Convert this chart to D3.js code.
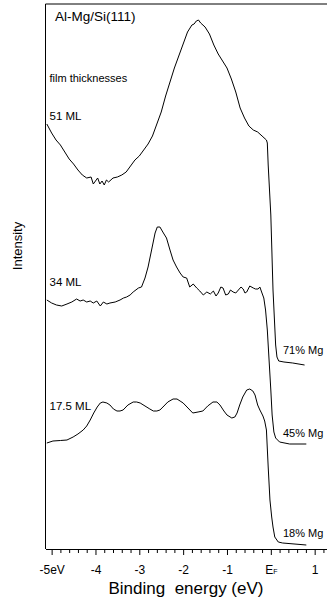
<!DOCTYPE html>
<html>
<head>
<meta charset="utf-8">
<script src="https://cdn.jsdelivr.net/npm/d3@7"></script>
<style>
  html, body { margin: 0; padding: 0; background: #fff; }
  svg { display: block; }
  text { font-family: "Liberation Sans", Arial, Helvetica, sans-serif; fill: #000; }
</style>
</head>
<body>
<svg id="chart" width="327" height="603"></svg>
<script>
// Valence-band photoemission spectra of Al-Mg films on Si(111),
// [binding energy (eV), intensity (arb. units, stacked with offsets)]
const spectrum51ML = [
  [-5.11,42.5],[-5.0,41.6],[-4.9,40.9],[-4.8,40.4],[-4.7,39.7],[-4.6,39.0],[-4.5,38.5],
  [-4.4,37.9],[-4.3,37.4],[-4.2,37.1],[-4.1,37.2],[-4.05,36.5],[-4.0,36.8],[-3.95,37.1],
  [-3.9,36.5],[-3.85,36.8],[-3.8,36.4],[-3.75,36.9],[-3.7,36.7],[-3.6,37.1],[-3.5,37.2],
  [-3.4,37.4],[-3.3,37.7],[-3.2,38.3],[-3.1,38.9],[-3.0,39.3],[-2.9,39.9],[-2.8,40.5],
  [-2.7,41.3],[-2.6,42.5],[-2.5,43.7],[-2.4,45.3],[-2.3,46.7],[-2.2,48.1],[-2.1,49.3],
  [-2.0,50.5],[-1.9,51.7],[-1.8,52.4],[-1.75,52.5],[-1.7,52.8],[-1.65,52.9],[-1.6,52.6],
  [-1.5,52.2],[-1.4,51.5],[-1.3,50.4],[-1.2,49.5],[-1.1,48.8],[-1.0,48.1],[-0.9,47.0],
  [-0.8,45.7],[-0.7,44.1],[-0.6,43.1],[-0.5,42.3],[-0.4,41.9],[-0.3,41.7],[-0.2,41.3],
  [-0.1,40.9],[-0.08,40.6],[-0.06,38.4],[0.0,33.4],[0.05,25.9],[0.11,20.4],[0.14,19.2],
  [0.18,18.8],[0.3,18.7],[0.5,18.6],[0.77,18.4]
];

const spectrum34ML = [
  [-5.11,24.9],[-5.0,24.6],[-4.89,24.4],[-4.77,24.3],[-4.65,24.5],[-4.54,24.7],[-4.43,25.0],
  [-4.35,24.8],[-4.28,24.9],[-4.2,24.7],[-4.12,24.8],[-4.05,24.6],[-3.97,24.8],[-3.89,24.3],
  [-3.82,24.7],[-3.74,24.5],[-3.67,24.6],[-3.55,24.7],[-3.44,24.9],[-3.36,25.1],[-3.29,25.2],
  [-3.21,25.4],[-3.14,25.7],[-3.02,26.1],[-2.95,26.2],[-2.87,27.1],[-2.8,28.2],[-2.72,29.9],
  [-2.64,31.6],[-2.59,32.2],[-2.53,32.2],[-2.45,31.6],[-2.38,31.1],[-2.3,29.9],[-2.23,28.9],
  [-2.15,28.2],[-2.07,27.6],[-2.0,27.2],[-1.92,27.1],[-1.85,26.2],[-1.77,26.5],[-1.69,26.1],
  [-1.62,25.8],[-1.54,25.4],[-1.46,25.7],[-1.38,25.5],[-1.31,25.8],[-1.25,25.3],[-1.2,25.6],
  [-1.14,26.2],[-1.09,26.1],[-1.03,25.4],[-0.97,25.5],[-0.92,25.9],[-0.86,25.7],[-0.8,25.6],
  [-0.74,25.9],[-0.68,26.2],[-0.63,26.0],[-0.59,25.6],[-0.55,25.7],[-0.48,26.3],[-0.4,26.1],
  [-0.35,26.0],[-0.29,26.0],[-0.25,26.2],[-0.21,25.7],[-0.16,25.1],[-0.12,23.9],[-0.08,21.9],
  [-0.04,18.9],[0.0,15.9],[0.03,13.4],[0.07,11.7],[0.11,11.1],[0.2,10.7],[0.43,10.5],[0.81,10.5]
];

const spectrum17ML = [
  [-5.11,10.6],[-4.97,10.8],[-4.8,10.85],[-4.65,10.9],[-4.51,11.2],[-4.4,11.5],[-4.28,11.9],
  [-4.2,12.3],[-4.12,12.9],[-4.04,13.6],[-3.96,14.2],[-3.89,14.6],[-3.83,14.7],[-3.74,14.6],
  [-3.67,14.4],[-3.59,14.0],[-3.51,13.8],[-3.44,13.8],[-3.37,13.9],[-3.26,14.4],[-3.14,14.7],
  [-3.06,14.7],[-2.98,14.6],[-2.87,14.3],[-2.76,14.0],[-2.68,13.8],[-2.6,13.8],[-2.53,13.9],
  [-2.46,14.2],[-2.35,14.7],[-2.23,15.0],[-2.14,15.0],[-2.07,14.8],[-2.0,14.6],[-1.89,14.1],
  [-1.78,13.6],[-1.66,13.7],[-1.55,13.8],[-1.44,14.3],[-1.32,14.7],[-1.23,14.7],[-1.16,14.4],
  [-1.07,13.8],[-1.0,13.4],[-0.89,13.1],[-0.82,13.2],[-0.77,13.6],[-0.71,14.4],[-0.64,15.2],
  [-0.55,15.9],[-0.48,16.0],[-0.41,15.8],[-0.36,15.4],[-0.3,14.4],[-0.25,13.9],[-0.18,13.3],
  [-0.14,12.8],[-0.1,11.9],[-0.06,8.2],[-0.02,4.9],[0.02,3.2],[0.05,2.2],[0.09,1.2],
  [0.17,0.7],[0.27,0.6],[0.81,0.4]
];

const thicknessLabels   = ["51 ML", "34 ML", "17.5 ML"];
const compositionLabels = ["71% Mg", "45% Mg", "18% Mg"];

const majorTicks  = [-5, -4, -3, -2, -1, 0, 1];
const majorLabels = ["-5eV", "-4", "-3", "-2", "-1", "E", "1"];

const titleText  = "Al-Mg/Si(111)";
const legendText = "film thicknesses";
const xTitle     = "Binding  energy (eV)";
const yTitle     = "Intensity";

// ---- layout ----
const svg = d3.select("#chart");
const plotLeft = 45.5, plotTop = 4, plotBottom = 549, plotRight = 330;

const x = d3.scaleLinear().domain([-5.14, 1.35]).range([plotLeft, plotRight]);
const y = d3.scaleLinear().domain([0, 54.5]).range([plotBottom, plotTop]);

// frame: left and top edges (right edge runs off the page)
svg.append("path")
  .attr("d", `M${plotRight},${plotTop}H${plotLeft}V${plotBottom}`)
  .attr("fill", "none").attr("stroke", "#000").attr("stroke-width", 1);

// spectra
const line = d3.line().x(d => x(d[0])).y(d => y(d[1]));
const spectra = [spectrum51ML, spectrum34ML, spectrum17ML];
svg.append("g").selectAll("path").data(spectra).join("path")
  .attr("d", line)
  .attr("fill", "none")
  .attr("stroke", "#000")
  .attr("stroke-width", 1)
  .attr("stroke-linejoin", "round");

// minor ticks every 0.2 eV
const minorTicks = d3.range(-50, 13, 2).map(v => v / 10)
  .filter(v => !majorTicks.includes(Math.round(v * 10) / 10));
svg.append("g")
  .attr("transform", `translate(0,${plotBottom})`)
  .call(d3.axisBottom(x).tickValues(minorTicks).tickSize(4).tickSizeOuter(0).tickFormat(""))
  .call(g => g.select(".domain").remove());

// major ticks with labels
const xAxis = svg.append("g")
  .attr("transform", `translate(0,${plotBottom})`)
  .call(d3.axisBottom(x).tickValues(majorTicks).tickSize(6).tickSizeOuter(0).tickPadding(10)
    .tickFormat((d, i) => majorLabels[i]));
xAxis.attr("font-family", null).attr("font-size", null);
xAxis.selectAll("text")
  .attr("font-size", 12)
  .attr("fill", "#000");
xAxis.selectAll(".tick").filter(d => d === 0).select("text")
  .append("tspan").attr("font-size", 7).text("F");

// axis titles
svg.append("text")
  .attr("x", 186).attr("y", 594)
  .attr("text-anchor", "middle")
  .attr("font-size", 17)
  .style("white-space", "pre")
  .text(xTitle);

svg.append("text")
  .attr("transform", "translate(22,246) rotate(-90)")
  .attr("text-anchor", "middle")
  .attr("font-size", 13)
  .text(yTitle);

// annotations
svg.append("text").attr("x", 55).attr("y", 21).attr("font-size", 13.5).text(titleText);
svg.append("text").attr("x", 49.5).attr("y", 81.5).attr("font-size", 11).text(legendText);

const thicknessY = [120, 286, 410];
svg.append("g").selectAll("text").data(thicknessLabels).join("text")
  .attr("x", 49.5).attr("y", (d, i) => thicknessY[i])
  .attr("font-size", 11.5).text(d => d);

const compositionY = [354, 436.5, 537];
svg.append("g").selectAll("text").data(compositionLabels).join("text")
  .attr("x", 283).attr("y", (d, i) => compositionY[i])
  .attr("font-size", 11).text(d => d);
</script>
</body>
</html>
